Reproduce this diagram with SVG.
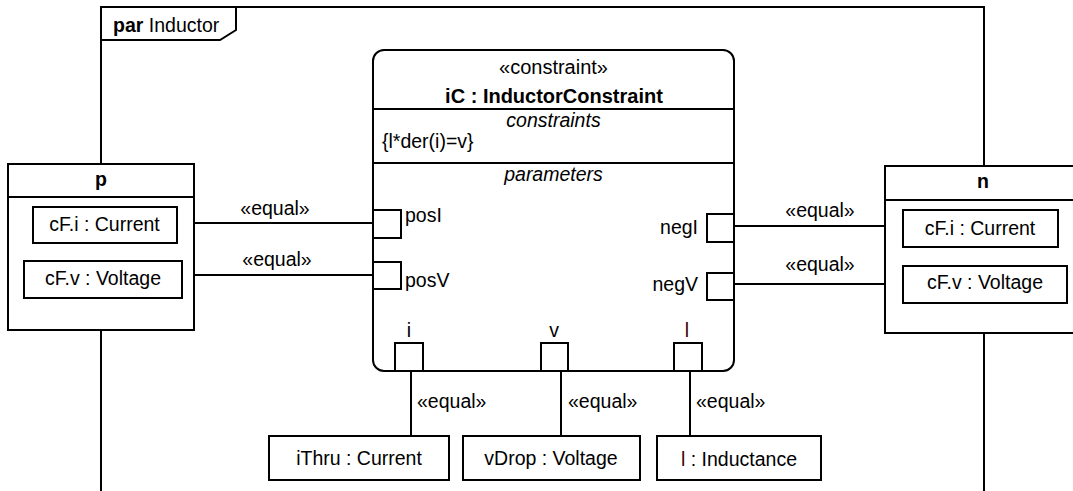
<svg xmlns="http://www.w3.org/2000/svg" width="1073" height="491" viewBox="0 0 1073 491">
<style>
  .ln { fill: none; stroke: #000; stroke-width: 2; }
  .bx { fill: #fff; stroke: #000; stroke-width: 2; }
  .t { font-family: "Liberation Sans", Arial, sans-serif; font-size: 19.5px; fill: #000; }
  .h { font-size: 20px; }
  .b { font-weight: bold; }
  .i { font-style: italic; }
  .m { text-anchor: middle; }
  .e { text-anchor: end; }
  .red { fill: #3c0000; }
</style>
<rect x="0" y="0" width="1073" height="491" fill="#fff"/>
<g id="frame">
  <rect class="ln" x="101" y="7" width="883" height="600"/>
  <path class="ln" d="M101,40 H220 L236,30 V7"/>
  <text class="t" x="113" y="32"><tspan class="b">par</tspan> Inductor</text>
</g>
<g id="connectors">
  <line class="ln" x1="177" y1="223" x2="373" y2="223"/>
  <line class="ln" x1="182" y1="275" x2="373" y2="275"/>
  <line class="ln" x1="734" y1="226" x2="903" y2="226"/>
  <line class="ln" x1="734" y1="284" x2="903" y2="284"/>
  <line class="ln" x1="411" y1="371" x2="411" y2="436"/>
  <line class="ln" x1="561" y1="371" x2="561" y2="436"/>
  <line class="ln" x1="690" y1="371" x2="690" y2="436"/>
  <text class="t m" x="275" y="215">«equal»</text>
  <text class="t m" x="277" y="266">«equal»</text>
  <text class="t m" x="820" y="217">«equal»</text>
  <text class="t m" x="820" y="271">«equal»</text>
  <text class="t" x="417" y="408">«equal»</text>
  <text class="t" x="568" y="408">«equal»</text>
  <text class="t" x="696" y="408">«equal»</text>
</g>
<g id="p">
  <rect class="bx" x="8" y="164" width="186" height="166"/>
  <line class="ln" x1="8" y1="197" x2="194" y2="197"/>
  <text class="t b m" x="101" y="186">p</text>
  <g id="p-cFi">
    <rect class="bx" x="33" y="207" width="144" height="36"/>
    <text class="t m" x="104.5" y="231">cF.i : Current</text>
  </g>
  <g id="p-cFv">
    <rect class="bx" x="24" y="261" width="158" height="37"/>
    <text class="t m" x="103" y="285">cF.v : Voltage</text>
  </g>
</g>
<g id="n">
  <rect class="bx" x="885" y="166" width="200" height="167"/>
  <line class="ln" x1="885" y1="200" x2="1085" y2="200"/>
  <text class="t b m" x="983" y="188">n</text>
  <g id="n-cFi">
    <rect class="bx" x="903" y="210" width="155" height="37"/>
    <text class="t m" x="980" y="235">cF.i : Current</text>
  </g>
  <g id="n-cFv">
    <rect class="bx" x="903" y="266" width="164" height="37"/>
    <text class="t m" x="985" y="289">cF.v : Voltage</text>
  </g>
</g>
<g id="iC">
  <rect class="bx" x="373" y="50" width="361" height="321" rx="11" ry="11"/>
  <line class="ln" x1="373" y1="109" x2="734" y2="109"/>
  <line class="ln" x1="373" y1="163" x2="734" y2="163"/>
  <text class="t h m" x="553.5" y="74">«constraint»</text>
  <text class="t h b m" x="554" y="103">iC : InductorConstraint</text>
  <text class="t i m" x="553.5" y="127">constraints</text>
  <text class="t" x="382" y="148">{l*der(i)=v}</text>
  <text class="t i m" x="553.5" y="181">parameters</text>
  <g id="port-posI">
    <rect class="bx" x="373" y="210" width="28" height="28"/>
    <text class="t" x="405" y="222">posI</text>
  </g>
  <g id="port-posV">
    <rect class="bx" x="373" y="262" width="28" height="27"/>
    <text class="t" x="405" y="287">posV</text>
  </g>
  <g id="port-negI">
    <rect class="bx" x="707" y="214" width="27" height="28"/>
    <text class="t e" x="698" y="234">negI</text>
  </g>
  <g id="port-negV">
    <rect class="bx" x="707" y="273" width="27" height="27"/>
    <text class="t e" x="698" y="291">negV</text>
  </g>
  <g id="port-i">
    <rect class="bx" x="395" y="343" width="28" height="28"/>
    <text class="t m" x="409" y="337">i</text>
  </g>
  <g id="port-v">
    <rect class="bx" x="541" y="343" width="27" height="28"/>
    <text class="t m" x="554" y="337">v</text>
  </g>
  <g id="port-l">
    <rect class="bx" x="674" y="343" width="28" height="28"/>
    <text class="t m red" x="687" y="337">l</text>
  </g>
</g>
<g id="iThru">
  <rect class="bx" x="269" y="436" width="180" height="44"/>
  <text class="t m" x="359" y="465">iThru : Current</text>
</g>
<g id="vDrop">
  <rect class="bx" x="463" y="436" width="177" height="44"/>
  <text class="t m" x="551" y="465">vDrop : Voltage</text>
</g>
<g id="l">
  <rect class="bx" x="657" y="436" width="164" height="44"/>
  <text class="t m" x="739" y="466"><tspan class="red">l</tspan> : Inductance</text>
</g>
</svg>
